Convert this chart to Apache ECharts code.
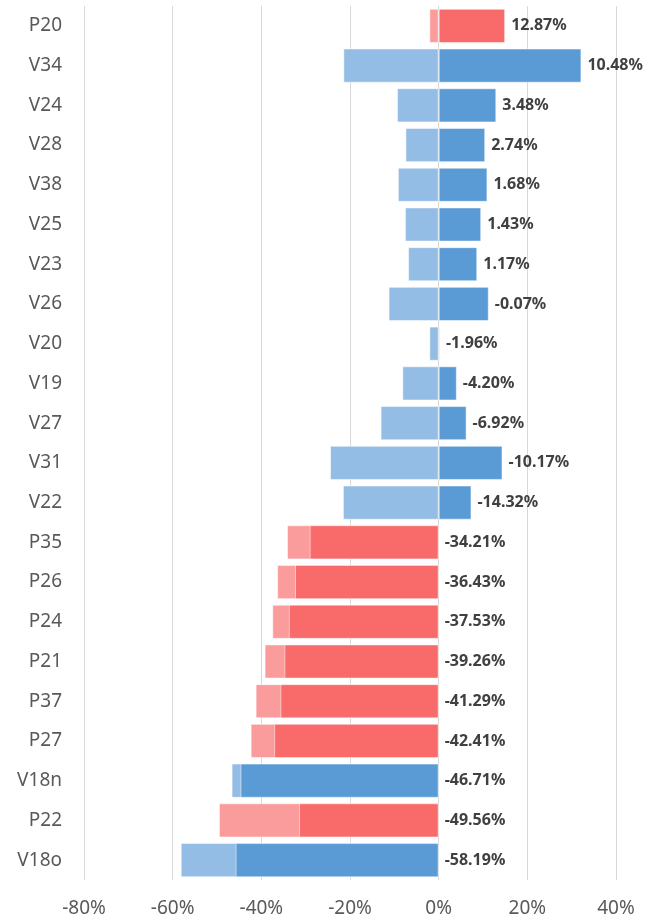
<!DOCTYPE html>
<html>
<head>
<meta charset="utf-8">
<script src="https://cdn.jsdelivr.net/npm/echarts@6/dist/echarts.min.js"></script>
<style>
  html, body { margin: 0; padding: 0; background: #fff; }
  #chart { width: 655px; height: 923px; }
</style>
</head>
<body>
<div id="chart"></div>
<script>
const categories = ['P20', 'V34', 'V24', 'V28', 'V38', 'V25', 'V23', 'V26', 'V20', 'V19', 'V27',
  'V31', 'V22', 'P35', 'P26', 'P24', 'P21', 'P37', 'P27', 'V18n', 'P22', 'V18o']
const lightValues = [-2.1, -21.5, -9.4, -7.5, -9.2, -7.6, -6.9, -11.3, -2.1, -8.2, -13.1,
  -24.5, -21.6, -34.21, -36.43, -37.53, -39.26, -41.29, -42.41, -46.71, -49.56, -58.19]
const darkValues = [15.0, 32.2, 13.0, 10.5, 11.0, 9.6, 8.7, 11.3, 0.3, 4.1, 6.3,
  14.4, 7.4, -29.1, -32.4, -33.8, -34.8, -35.7, -37.1, -44.7, -31.5, -45.8]
const labelValues = [12.87, 10.48, 3.48, 2.74, 1.68, 1.43, 1.17, -0.07, -1.96, -4.20, -6.92,
  -10.17, -14.32, -34.21, -36.43, -37.53, -39.26, -41.29, -42.41, -46.71, -49.56, -58.19]
const xTicks = [-80, -60, -40, -20, 0, 20, 40]

const darkColor = { P: '#F96B6B', V: '#5B9BD5' }
const lightColor = { P: '#FA9C9C', V: '#93BDE5' }

const chart = echarts.init(document.getElementById('chart'))

const option = {
  animation: false,
  textStyle: { fontFamily: 'Noto Sans' },
  grid: { left: 84, right: 39, top: 6, bottom: 43 },
  xAxis: {
    type: 'value',
    min: xTicks[0],
    max: xTicks[xTicks.length - 1],
    interval: 20,
    axisLine: { show: false },
    axisTick: { show: false },
    splitLine: { lineStyle: { color: '#d9d9d9' } },
    axisLabel: { formatter: '{value}%', fontSize: 19, color: '#595959', margin: 19 }
  },
  yAxis: {
    type: 'category',
    inverse: true,
    data: categories,
    axisLine: { show: false },
    axisTick: { show: false },
    axisLabel: { fontSize: 19, color: '#595959', margin: 22 }
  },
  series: [
    {
      name: 'light',
      type: 'bar',
      barCategoryGap: '14%',
      barGap: '-100%',
      z: 2,
      data: lightValues.map((v, i) => ({
        value: v,
        itemStyle: { color: lightColor[categories[i][0]] }
      })),
      itemStyle: { borderColor: 'rgba(255,255,255,0.5)', borderWidth: 1 }
    },
    {
      name: 'dark',
      type: 'bar',
      barCategoryGap: '14%',
      barGap: '-100%',
      z: 3,
      data: darkValues.map((v, i) => ({
        value: v,
        itemStyle: { color: darkColor[categories[i][0]] }
      })),
      itemStyle: { borderColor: 'rgba(255,255,255,0.5)', borderWidth: 1 },
      label: {
        show: true,
        position: 'right',
        distance: 6,
        fontSize: 16,
        fontWeight: 'bold',
        color: '#404040',
        formatter: p => labelValues[p.dataIndex].toFixed(2) + '%'
      }
    }
  ]
}

chart.setOption(option)
</script>
</body>
</html>
